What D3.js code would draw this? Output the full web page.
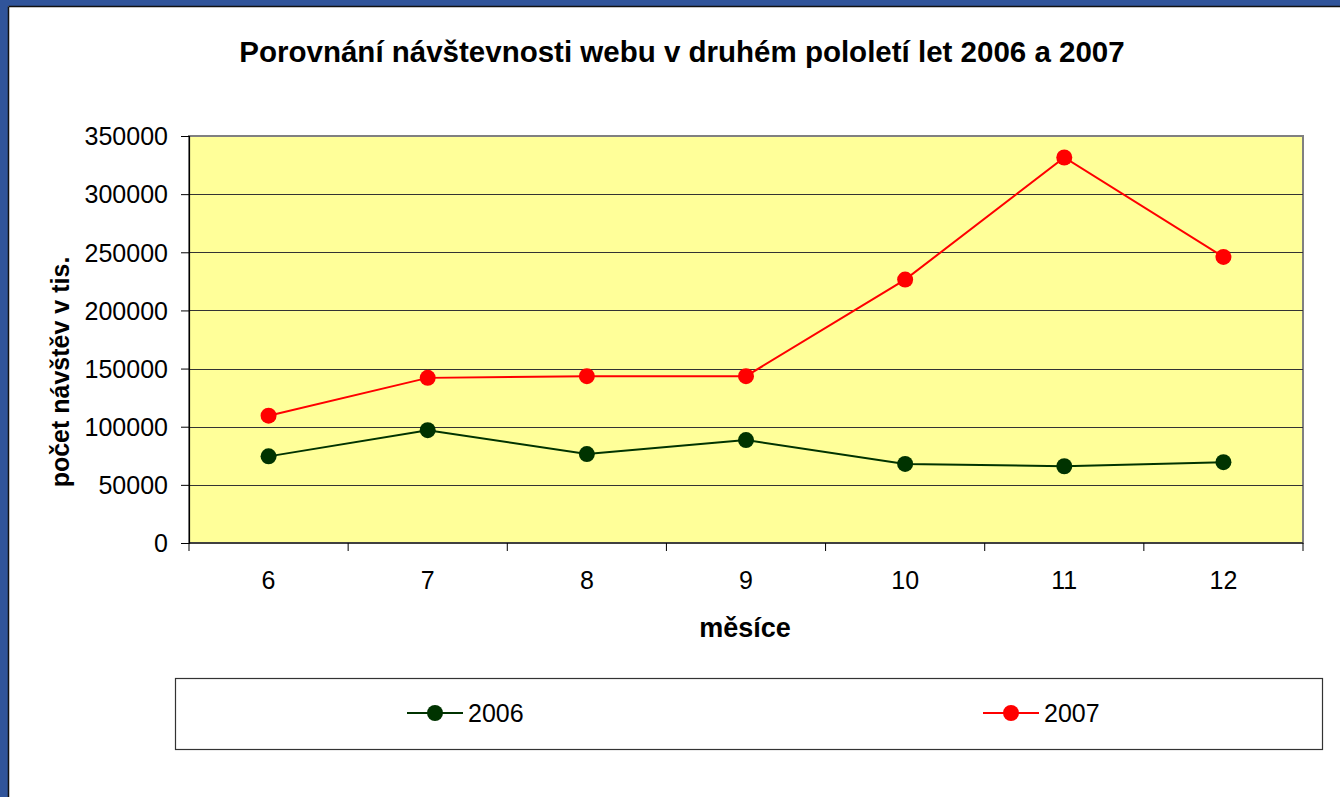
<html>
<head>
    <meta charset="utf-8">
    <script src="https://d3js.org/d3.v7.min.js"></script>
    <style>
        body { margin: 0; background: #fff; }
        text { font-family: "Liberation Sans", Arial, sans-serif; fill: #000; }
    </style>
</head>
<body>
    <svg id="chart" width="1340" height="797"></svg>
    <script>
        // data
        var months = ['6', '7', '8', '9', '10', '11', '12'];
        var visits2006 = [74500, 97000, 76500, 88500, 68000, 66000, 69500];
        var visits2007 = [109500, 142000, 143500, 143500, 226500, 331500, 246000];
        var yTicks = [0, 50000, 100000, 150000, 200000, 250000, 300000, 350000];
        var seriesNames = ['2006', '2007'];
        var seriesColors = ['#003300', '#ff0000'];

        var svg = d3.select('#chart');

        // window frame (blue strip on top and left)
        svg.append('rect').attr('x', 0).attr('y', 0).attr('width', 1340).attr('height', 6).attr('fill', '#30549a');
        svg.append('rect').attr('x', 0).attr('y', 0).attr('width', 8).attr('height', 797).attr('fill', '#30549a');
        svg.append('line').attr('x1', 8.5).attr('x2', 1340).attr('y1', 6.5).attr('y2', 6.5).attr('stroke', '#111').attr('stroke-width', 1.5);
        svg.append('line').attr('x1', 8.5).attr('x2', 8.5).attr('y1', 6.5).attr('y2', 797).attr('stroke', '#111').attr('stroke-width', 1.5);

        var plotLeft = 189, plotRight = 1303, plotTop = 136, plotBottom = 543;

        var x = d3.scaleBand().domain(months).range([plotLeft, plotRight]);
        var y = d3.scaleLinear().domain([0, 350000]).range([plotBottom, plotTop]);

        // plot area
        svg.append('rect')
            .attr('x', plotLeft).attr('y', plotTop)
            .attr('width', plotRight - plotLeft).attr('height', plotBottom - plotTop)
            .attr('fill', '#ffff99')
            .attr('stroke', '#808080').attr('stroke-width', 2);

        // gridlines
        svg.append('g')
            .selectAll('line')
            .data(yTicks.slice(1, -1))
            .enter()
            .append('line')
            .attr('x1', plotLeft).attr('x2', plotRight)
            .attr('y1', function(d) { return Math.round(y(d)) + 0.5; })
            .attr('y2', function(d) { return Math.round(y(d)) + 0.5; })
            .attr('stroke', '#333').attr('stroke-width', 1.2);

        // y axis
        var yAxis = svg.append('g')
            .attr('transform', 'translate(' + plotLeft + ',0)')
            .call(d3.axisLeft(y).tickValues(yTicks).tickSize(8).tickPadding(13).tickFormat(d3.format('d')));
        yAxis.select('.domain').attr('stroke', '#000').attr('stroke-width', 1.2);
        yAxis.selectAll('.tick line').attr('stroke', '#000');
        yAxis.selectAll('text').style('font-size', '25px').attr('font-family', null).attr('dy', '0.35em');

        // x axis, ticks on category borders
        var xAxis = svg.append('g')
            .attr('transform', 'translate(0,' + plotBottom + ')');
        xAxis.append('line')
            .attr('x1', plotLeft).attr('x2', plotRight).attr('y1', 0).attr('y2', 0)
            .attr('stroke', '#000').attr('stroke-width', 1.2);
        xAxis.selectAll('.xt')
            .data(months.concat(['end']))
            .enter()
            .append('line')
            .attr('class', 'xt')
            .attr('x1', function(d, i) { return plotLeft + i * x.bandwidth(); })
            .attr('x2', function(d, i) { return plotLeft + i * x.bandwidth(); })
            .attr('y1', 0).attr('y2', 8)
            .attr('stroke', '#000');
        xAxis.selectAll('text')
            .data(months)
            .enter()
            .append('text')
            .attr('x', function(d) { return x(d) + x.bandwidth() / 2; })
            .attr('y', 46)
            .attr('text-anchor', 'middle')
            .style('font-size', '25px')
            .text(function(d) { return d; });

        // series
        var allSeries = [visits2006, visits2007];
        var line = d3.line()
            .x(function(d, i) { return x(months[i]) + x.bandwidth() / 2; })
            .y(function(d) { return y(d); });

        allSeries.forEach(function(values, s) {
            svg.append('path')
                .datum(values)
                .attr('d', line)
                .attr('fill', 'none')
                .attr('stroke', seriesColors[s])
                .attr('stroke-width', 2);
            svg.append('g')
                .selectAll('circle')
                .data(values)
                .enter()
                .append('circle')
                .attr('cx', function(d, i) { return x(months[i]) + x.bandwidth() / 2; })
                .attr('cy', function(d) { return y(d); })
                .attr('r', 8)
                .attr('fill', seriesColors[s]);
        });

        // titles
        svg.append('text')
            .attr('x', 682).attr('y', 62)
            .attr('text-anchor', 'middle')
            .style('font-size', '29.5px').style('font-weight', 'bold')
            .text('Porovnání návštevnosti webu v druhém pololetí let 2006 a 2007');

        svg.append('text')
            .attr('x', 745).attr('y', 637)
            .attr('text-anchor', 'middle')
            .style('font-size', '27px').style('font-weight', 'bold')
            .text('měsíce');

        svg.append('text')
            .attr('transform', 'translate(69,372) rotate(-90)')
            .attr('text-anchor', 'middle')
            .style('font-size', '25px').style('font-weight', 'bold')
            .text('počet návštěv v tis.');

        // legend
        svg.append('rect')
            .attr('x', 175.5).attr('y', 678.5)
            .attr('width', 1147).attr('height', 71)
            .attr('fill', '#fff')
            .attr('stroke', '#333').attr('stroke-width', 1.2);

        var legendX = [407, 983];
        var legend = svg.append('g')
            .selectAll('g')
            .data(seriesNames)
            .enter()
            .append('g')
            .attr('transform', function(d, i) { return 'translate(' + legendX[i] + ',713)'; });
        legend.append('line')
            .attr('x1', 0).attr('x2', 56)
            .attr('stroke', function(d, i) { return seriesColors[i]; })
            .attr('stroke-width', 2);
        legend.append('circle')
            .attr('cx', 28).attr('r', 8)
            .attr('fill', function(d, i) { return seriesColors[i]; });
        legend.append('text')
            .attr('x', 61).attr('y', 9)
            .style('font-size', '25px')
            .text(function(d) { return d; });
    </script>
</body>
</html>
